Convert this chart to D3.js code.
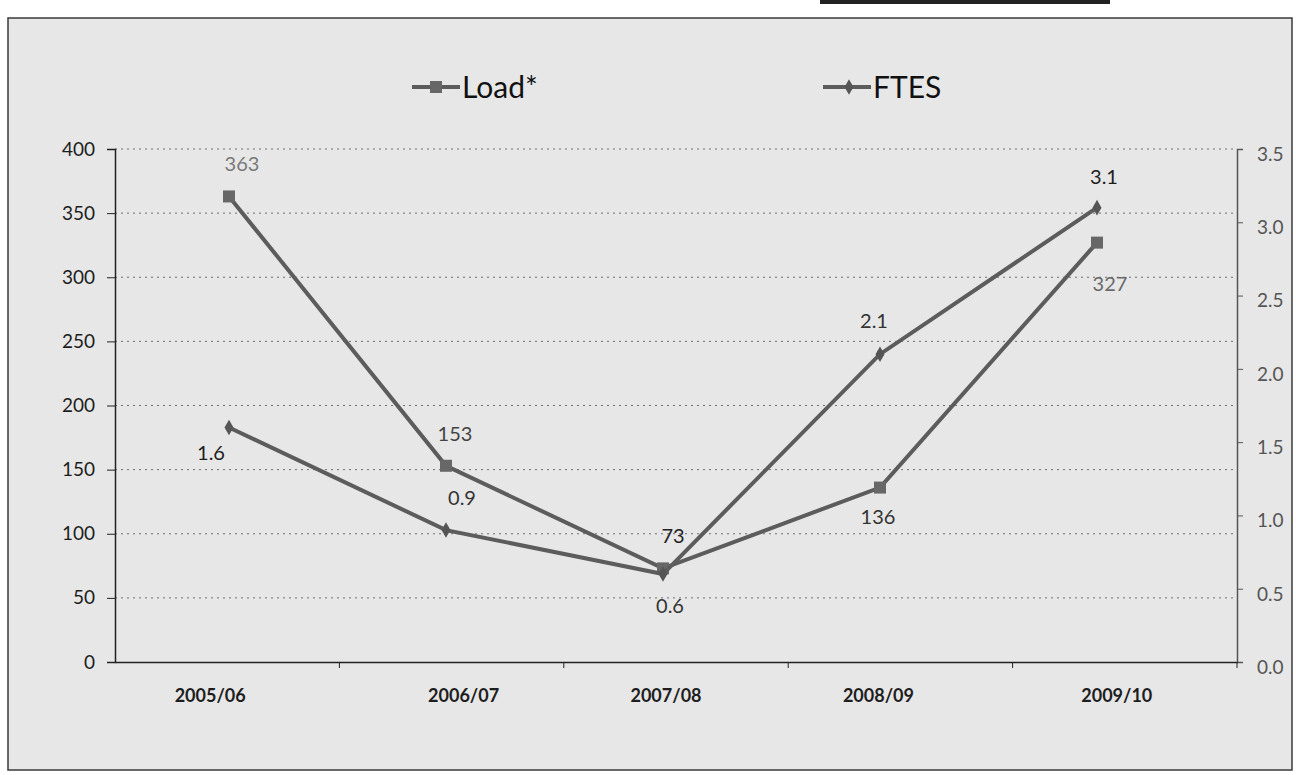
<!DOCTYPE html>
<html>
<head>
<meta charset="utf-8">
<script src="https://cdn.jsdelivr.net/npm/d3@7"></script>
<style>
  html, body { margin: 0; padding: 0; background: #ffffff; }
  svg { display: block; }
  text { font-family: Lato, "Open Sans", sans-serif; }
</style>
</head>
<body>
<svg id="chart" width="1296" height="775"></svg>
<script>
// Academic years along the horizontal axis
const years = ["2005/06", "2006/07", "2007/08", "2008/09", "2009/10"];
// Load* series (left axis)
const loadValues = [363, 153, 73, 136, 327];
// FTES series (right axis)
const ftesValues = [1.6, 0.9, 0.6, 2.1, 3.1];
// Axis tick values
const leftTicks = [0, 50, 100, 150, 200, 250, 300, 350, 400];
const rightTicks = [0, 0.5, 1.0, 1.5, 2.0, 2.5, 3.0, 3.5];

const svg = d3.select("#chart");

// Chart panel
svg.append("rect")
  .attr("x", 8).attr("y", 18).attr("width", 1284).attr("height", 752)
  .attr("fill", "#e7e7e7").attr("stroke", "#3a3a3a").attr("stroke-width", 1.5);
svg.append("rect")
  .attr("x", 820).attr("y", 0).attr("width", 290).attr("height", 4)
  .attr("fill", "#222");

const plot = { left: 115, right: 1237, top: 149, bottom: 662 };

// Category bands for the axis, point positions for the series
const x = d3.scaleBand().domain(years).range([plot.left, plot.right]);
const xp = d3.scalePoint().domain(years).range([plot.left + 114, plot.right - 140]);
const yL = d3.scaleLinear().domain([0, 400]).range([plot.bottom, plot.top]);
const yR = d3.scaleLinear().domain([0, 3.5]).range([plot.bottom, plot.top]);

// Dotted gridlines
svg.append("g")
  .selectAll("line")
  .data(leftTicks.filter(t => t > 0))
  .join("line")
  .attr("x1", plot.left).attr("x2", plot.right)
  .attr("y1", d => yL(d)).attr("y2", d => yL(d))
  .attr("stroke", "#6f6f6f").attr("stroke-width", 1)
  .attr("stroke-dasharray", "2,4");

// Left axis
const gL = svg.append("g")
  .attr("transform", `translate(${plot.left},0)`)
  .call(d3.axisLeft(yL).tickValues(leftTicks).tickSize(8).tickPadding(12).tickFormat(d3.format("d")));
gL.select(".domain").attr("stroke", "#222").attr("stroke-width", 1.5);
gL.selectAll(".tick line").attr("stroke", "#222");
gL.selectAll(".tick text").attr("fill", "#1e1e1e").attr("font-size", 19);

// Right axis
const gR = svg.append("g")
  .attr("transform", `translate(${plot.right},0)`)
  .call(d3.axisRight(yR).tickValues(rightTicks).tickSize(6).tickPadding(14).tickFormat(d3.format(".1f")));
gR.select(".domain").attr("stroke", "#555").attr("stroke-width", 1.5);
gR.selectAll(".tick line").attr("stroke", "#555");
gR.selectAll(".tick text").attr("fill", "#555").attr("font-size", 19).attr("dy", "0.6em");

// Bottom axis
const gX = svg.append("g")
  .attr("transform", `translate(0,${plot.bottom})`)
  .call(d3.axisBottom(x).tickSize(0).tickPadding(27));
gX.select(".domain").attr("stroke", "#222").attr("stroke-width", 1.5);
gX.selectAll(".tick text").attr("fill", "#1e1e1e").attr("font-size", 18).attr("font-weight", "bold")
  .attr("dx", (d, i) => [-17, 12, -10, -22, -8][i]);
// Category boundary ticks
svg.append("g")
  .selectAll("line")
  .data(years)
  .join("line")
  .attr("x1", d => x(d) + x.bandwidth()).attr("x2", d => x(d) + x.bandwidth())
  .attr("y1", plot.bottom).attr("y2", plot.bottom + 6)
  .attr("stroke", "#222");

const lineColor = "#5c5c5c";

// Load* line with square markers
const loadLine = d3.line().x((d, i) => xp(years[i])).y(d => yL(d));
svg.append("path").datum(loadValues)
  .attr("d", loadLine).attr("fill", "none")
  .attr("stroke", lineColor).attr("stroke-width", 4);
svg.append("g").selectAll("rect").data(loadValues).join("rect")
  .attr("x", (d, i) => xp(years[i]) - 6).attr("y", d => yL(d) - 6)
  .attr("width", 12).attr("height", 12).attr("fill", "#676767");

// FTES line with diamond markers
const ftesLine = d3.line().x((d, i) => xp(years[i])).y(d => yR(d));
svg.append("path").datum(ftesValues)
  .attr("d", ftesLine).attr("fill", "none")
  .attr("stroke", lineColor).attr("stroke-width", 4);
svg.append("g").selectAll("path").data(ftesValues).join("path")
  .attr("transform", (d, i) => `translate(${xp(years[i])},${yR(d)})`)
  .attr("d", d3.symbol(d3.symbolDiamond, 70))
  .attr("fill", "#555");

// Data labels
const loadLabelOffset = [[13, -25], [9, -25], [10, -25], [-2, 36], [13, 48]];
const loadLabelColor = ["#7a7a7a", "#444", "#222", "#333", "#6a6a6a"];
svg.append("g").selectAll("text").data(loadValues).join("text")
  .attr("x", (d, i) => xp(years[i]) + loadLabelOffset[i][0])
  .attr("y", (d, i) => yL(d) + loadLabelOffset[i][1])
  .attr("text-anchor", "middle").attr("font-size", 20)
  .attr("fill", (d, i) => loadLabelColor[i])
  .text(d => d);

const ftesLabelOffset = [[-18, 33], [16, -25], [7, 39], [-6, -26], [7, -24]];
const ftesLabelColor = ["#1e1e1e", "#333", "#333", "#333", "#1e1e1e"];
svg.append("g").selectAll("text").data(ftesValues).join("text")
  .attr("x", (d, i) => xp(years[i]) + ftesLabelOffset[i][0])
  .attr("y", (d, i) => yR(d) + ftesLabelOffset[i][1])
  .attr("text-anchor", "middle").attr("font-size", 20)
  .attr("fill", (d, i) => ftesLabelColor[i])
  .text(d => d3.format(".1f")(d));

// Legend
const legend = [
  { name: "Load*", x: 412, symbol: "square" },
  { name: "FTES", x: 823, symbol: "diamond" }
];
const lg = svg.append("g").selectAll("g").data(legend).join("g")
  .attr("transform", d => `translate(${d.x},87)`);
lg.append("line").attr("x1", 0).attr("x2", 48).attr("y1", 0).attr("y2", 0)
  .attr("stroke", lineColor).attr("stroke-width", 4);
lg.filter(d => d.symbol === "square").append("rect")
  .attr("x", 18).attr("y", -6).attr("width", 12).attr("height", 12).attr("fill", "#676767");
lg.filter(d => d.symbol === "diamond").append("path")
  .attr("transform", "translate(26,0)")
  .attr("d", d3.symbol(d3.symbolDiamond, 70)).attr("fill", "#555");
lg.append("text").attr("x", 50).attr("y", 11)
  .attr("font-size", 30).attr("fill", "#111")
  .text(d => d.name);
</script>
</body>
</html>
